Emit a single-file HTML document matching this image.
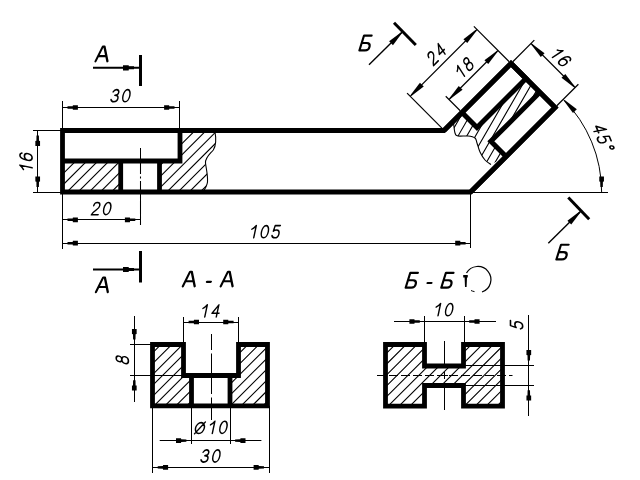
<!DOCTYPE html>
<html><head><meta charset="utf-8"><style>
html,body{margin:0;padding:0;background:#fff;}
svg{display:block;will-change:transform;}
text{font-family:"Liberation Sans",sans-serif;font-style:italic;fill:#000;stroke:none;}
</style></head><body>
<svg width="640" height="480" viewBox="0 0 640 480" stroke="#000" fill="none">
<rect x="0" y="0" width="640" height="480" fill="#fff" stroke="none"/>
<clipPath id="h1"><path d="M62.5 161H120.5V192.0H62.5Z"/></clipPath>
<path clip-path="url(#h1)" d="M-812.5 238.87L318.87 -892.5M-806.95 244.42L324.42 -886.95M-801.4 249.97L329.97 -881.4M-795.85 255.52L335.52 -875.85M-790.3 261.07L341.07 -870.3M-784.75 266.62L346.62 -864.75M-779.2 272.17L352.17 -859.2M-773.65 277.72L357.72 -853.65M-768.1 283.27L363.27 -848.1M-762.55 288.83L368.83 -842.55M-756.99 294.38L374.38 -836.99M-751.44 299.93L379.93 -831.44M-745.89 305.48L385.48 -825.89M-740.34 311.03L391.03 -820.34M-734.79 316.58L396.58 -814.79M-729.24 322.13L402.13 -809.24M-723.69 327.68L407.68 -803.69M-718.14 333.23L413.23 -798.14M-712.59 338.78L418.78 -792.59M-707.04 344.33L424.33 -787.04M-701.49 349.88L429.88 -781.49M-695.94 355.44L435.44 -775.94M-690.38 360.99L440.99 -770.38M-684.83 366.54L446.54 -764.83M-679.28 372.09L452.09 -759.28M-673.73 377.64L457.64 -753.73M-668.18 383.19L463.19 -748.18M-662.63 388.74L468.74 -742.63M-657.08 394.29L474.29 -737.08M-651.53 399.84L479.84 -731.53M-645.98 405.39L485.39 -725.98M-640.43 410.94L490.94 -720.43M-634.88 416.49L496.49 -714.88M-629.33 422.04L502.04 -709.33M-623.78 427.6L507.6 -703.78M-618.22 433.15L513.15 -698.22M-612.67 438.7L518.7 -692.67M-607.12 444.25L524.25 -687.12M-601.57 449.8L529.8 -681.57M-596.02 455.35L535.35 -676.02M-590.47 460.9L540.9 -670.47M-584.92 466.45L546.45 -664.92M-579.37 472L552 -659.37M-573.82 477.55L557.55 -653.82M-568.27 483.1L563.1 -648.27M-562.72 488.65L568.65 -642.72M-557.17 494.2L574.2 -637.17M-551.62 499.76L579.76 -631.62M-546.06 505.31L585.31 -626.06M-540.51 510.86L590.86 -620.51M-534.96 516.41L596.41 -614.96M-529.41 521.96L601.96 -609.41M-523.86 527.51L607.51 -603.86M-518.31 533.06L613.06 -598.31M-512.76 538.61L618.61 -592.76M-507.21 544.16L624.16 -587.21M-501.66 549.71L629.71 -581.66M-496.11 555.26L635.26 -576.11M-490.56 560.81L640.81 -570.56M-485.01 566.37L646.37 -565.01M-479.45 571.92L651.92 -559.45M-473.9 577.47L657.47 -553.9M-468.35 583.02L663.02 -548.35M-462.8 588.57L668.57 -542.8M-457.25 594.12L674.12 -537.25M-451.7 599.67L679.67 -531.7M-446.15 605.22L685.22 -526.15M-440.6 610.77L690.77 -520.6M-435.05 616.32L696.32 -515.05M-429.5 621.87L701.87 -509.5M-423.95 627.42L707.42 -503.95M-418.4 632.97L712.97 -498.4M-412.85 638.53L718.53 -492.85M-407.29 644.08L724.08 -487.29M-401.74 649.63L729.63 -481.74M-396.19 655.18L735.18 -476.19M-390.64 660.73L740.73 -470.64M-385.09 666.28L746.28 -465.09M-379.54 671.83L751.83 -459.54M-373.99 677.38L757.38 -453.99M-368.44 682.93L762.93 -448.44M-362.89 688.48L768.48 -442.89M-357.34 694.03L774.03 -437.34M-351.79 699.58L779.58 -431.79M-346.24 705.13L785.13 -426.24M-340.69 710.69L790.69 -420.69M-335.13 716.24L796.24 -415.13M-329.58 721.79L801.79 -409.58M-324.03 727.34L807.34 -404.03M-318.48 732.89L812.89 -398.48M-312.93 738.44L818.44 -392.93M-307.38 743.99L823.99 -387.38M-301.83 749.54L829.54 -381.83M-296.28 755.09L835.09 -376.28M-290.73 760.64L840.64 -370.73M-285.18 766.19L846.19 -365.18M-279.63 771.74L851.74 -359.63M-274.08 777.3L857.3 -354.08M-268.52 782.85L862.85 -348.52M-262.97 788.4L868.4 -342.97M-257.42 793.95L873.95 -337.42M-251.87 799.5L879.5 -331.87M-246.32 805.05L885.05 -326.32M-240.77 810.6L890.6 -320.77M-235.22 816.15L896.15 -315.22M-229.67 821.7L901.7 -309.67M-224.12 827.25L907.25 -304.12M-218.57 832.8L912.8 -298.57M-213.02 838.35L918.35 -293.02M-207.47 843.9L923.9 -287.47M-201.92 849.46L929.46 -281.92M-196.36 855.01L935.01 -276.36M-190.81 860.56L940.56 -270.81M-185.26 866.11L946.11 -265.26M-179.71 871.66L951.66 -259.71M-174.16 877.21L957.21 -254.16M-168.61 882.76L962.76 -248.61M-163.06 888.31L968.31 -243.06M-157.51 893.86L973.86 -237.51M-151.96 899.41L979.41 -231.96M-146.41 904.96L984.96 -226.41M-140.86 910.51L990.51 -220.86M-135.31 916.06L996.06 -215.31M-129.76 921.62L1001.62 -209.76M-124.2 927.17L1007.17 -204.2M-118.65 932.72L1012.72 -198.65M-113.1 938.27L1018.27 -193.1M-107.55 943.82L1023.82 -187.55M-102 949.37L1029.37 -182M-96.45 954.92L1034.92 -176.45M-90.9 960.47L1040.47 -170.9M-85.35 966.02L1046.02 -165.35M-79.8 971.57L1051.57 -159.8M-74.25 977.12L1057.12 -154.25M-68.7 982.67L1062.67 -148.7M-63.15 988.23L1068.23 -143.15M-57.6 993.78L1073.78 -137.6M-52.04 999.33L1079.33 -132.04M-46.49 1004.88L1084.88 -126.49M-40.94 1010.43L1090.43 -120.94M-35.39 1015.98L1095.98 -115.39M-29.84 1021.53L1101.53 -109.84M-24.29 1027.08L1107.08 -104.29M-18.74 1032.63L1112.63 -98.74M-13.19 1038.18L1118.18 -93.19M-7.64 1043.73L1123.73 -87.64M-2.09 1049.28L1129.28 -82.09M3.46 1054.83L1134.83 -76.54M9.01 1060.39L1140.39 -70.99M14.57 1065.94L1145.94 -65.43M20.12 1071.49L1151.49 -59.88M25.67 1077.04L1157.04 -54.33M31.22 1082.59L1162.59 -48.78M36.77 1088.14L1168.14 -43.23M42.32 1093.69L1173.69 -37.68M47.87 1099.24L1179.24 -32.13M53.42 1104.79L1184.79 -26.58M58.97 1110.34L1190.34 -21.03M64.52 1115.89L1195.89 -15.48M70.07 1121.44L1201.44 -9.93M75.62 1126.99L1206.99 -4.38M81.17 1132.55L1212.55 1.17M86.73 1138.1L1218.1 6.73M92.28 1143.65L1223.65 12.28M97.83 1149.2L1229.2 17.83M103.38 1154.75L1234.75 23.38M108.93 1160.3L1240.3 28.93M114.48 1165.85L1245.85 34.48M120.03 1171.4L1251.4 40.03M125.58 1176.95L1256.95 45.58M131.13 1182.5L1262.5 51.13M136.68 1188.05L1268.05 56.68M142.23 1193.6L1273.6 62.23M147.78 1199.15L1279.15 67.78M153.33 1204.71L1284.71 73.33M158.89 1210.26L1290.26 78.89M164.44 1215.81L1295.81 84.44M169.99 1221.36L1301.36 89.99M175.54 1226.91L1306.91 95.54M181.09 1232.46L1312.46 101.09M186.64 1238.01L1318.01 106.64M192.19 1243.56L1323.56 112.19M197.74 1249.11L1329.11 117.74M203.29 1254.66L1334.66 123.29M208.84 1260.21L1340.21 128.84M214.39 1265.76L1345.76 134.39M219.94 1271.32L1351.32 139.94M225.5 1276.87L1356.87 145.5M231.05 1282.42L1362.42 151.05M236.6 1287.97L1367.97 156.6M242.15 1293.52L1373.52 162.15M247.7 1299.07L1379.07 167.7M253.25 1304.62L1384.62 173.25M258.8 1310.17L1390.17 178.8M264.35 1315.72L1395.72 184.35M269.9 1321.27L1401.27 189.9M275.45 1326.82L1406.82 195.45M281 1332.37L1412.37 201M286.55 1337.92L1417.92 206.55M292.1 1343.48L1423.48 212.1M297.66 1349.03L1429.03 217.66M303.21 1354.58L1434.58 223.21M308.76 1360.13L1440.13 228.76M314.31 1365.68L1445.68 234.31M319.86 1371.23L1451.23 239.86" stroke-width="1.1" fill="none"/>
<clipPath id="h2"><path d="M180 130.5 L214.8 130.5 C216 137 216.5 145 213.3 150 C209 155 205 158 205.5 163 C206 168 208 175 207.5 182 C207 186 205 189 203 192.0 L159.5 192.0 L159.5 161 L180 161 Z"/></clipPath>
<path clip-path="url(#h2)" d="M-812.5 238.87L318.87 -892.5M-806.95 244.42L324.42 -886.95M-801.4 249.97L329.97 -881.4M-795.85 255.52L335.52 -875.85M-790.3 261.07L341.07 -870.3M-784.75 266.62L346.62 -864.75M-779.2 272.17L352.17 -859.2M-773.65 277.72L357.72 -853.65M-768.1 283.27L363.27 -848.1M-762.55 288.83L368.83 -842.55M-756.99 294.38L374.38 -836.99M-751.44 299.93L379.93 -831.44M-745.89 305.48L385.48 -825.89M-740.34 311.03L391.03 -820.34M-734.79 316.58L396.58 -814.79M-729.24 322.13L402.13 -809.24M-723.69 327.68L407.68 -803.69M-718.14 333.23L413.23 -798.14M-712.59 338.78L418.78 -792.59M-707.04 344.33L424.33 -787.04M-701.49 349.88L429.88 -781.49M-695.94 355.44L435.44 -775.94M-690.38 360.99L440.99 -770.38M-684.83 366.54L446.54 -764.83M-679.28 372.09L452.09 -759.28M-673.73 377.64L457.64 -753.73M-668.18 383.19L463.19 -748.18M-662.63 388.74L468.74 -742.63M-657.08 394.29L474.29 -737.08M-651.53 399.84L479.84 -731.53M-645.98 405.39L485.39 -725.98M-640.43 410.94L490.94 -720.43M-634.88 416.49L496.49 -714.88M-629.33 422.04L502.04 -709.33M-623.78 427.6L507.6 -703.78M-618.22 433.15L513.15 -698.22M-612.67 438.7L518.7 -692.67M-607.12 444.25L524.25 -687.12M-601.57 449.8L529.8 -681.57M-596.02 455.35L535.35 -676.02M-590.47 460.9L540.9 -670.47M-584.92 466.45L546.45 -664.92M-579.37 472L552 -659.37M-573.82 477.55L557.55 -653.82M-568.27 483.1L563.1 -648.27M-562.72 488.65L568.65 -642.72M-557.17 494.2L574.2 -637.17M-551.62 499.76L579.76 -631.62M-546.06 505.31L585.31 -626.06M-540.51 510.86L590.86 -620.51M-534.96 516.41L596.41 -614.96M-529.41 521.96L601.96 -609.41M-523.86 527.51L607.51 -603.86M-518.31 533.06L613.06 -598.31M-512.76 538.61L618.61 -592.76M-507.21 544.16L624.16 -587.21M-501.66 549.71L629.71 -581.66M-496.11 555.26L635.26 -576.11M-490.56 560.81L640.81 -570.56M-485.01 566.37L646.37 -565.01M-479.45 571.92L651.92 -559.45M-473.9 577.47L657.47 -553.9M-468.35 583.02L663.02 -548.35M-462.8 588.57L668.57 -542.8M-457.25 594.12L674.12 -537.25M-451.7 599.67L679.67 -531.7M-446.15 605.22L685.22 -526.15M-440.6 610.77L690.77 -520.6M-435.05 616.32L696.32 -515.05M-429.5 621.87L701.87 -509.5M-423.95 627.42L707.42 -503.95M-418.4 632.97L712.97 -498.4M-412.85 638.53L718.53 -492.85M-407.29 644.08L724.08 -487.29M-401.74 649.63L729.63 -481.74M-396.19 655.18L735.18 -476.19M-390.64 660.73L740.73 -470.64M-385.09 666.28L746.28 -465.09M-379.54 671.83L751.83 -459.54M-373.99 677.38L757.38 -453.99M-368.44 682.93L762.93 -448.44M-362.89 688.48L768.48 -442.89M-357.34 694.03L774.03 -437.34M-351.79 699.58L779.58 -431.79M-346.24 705.13L785.13 -426.24M-340.69 710.69L790.69 -420.69M-335.13 716.24L796.24 -415.13M-329.58 721.79L801.79 -409.58M-324.03 727.34L807.34 -404.03M-318.48 732.89L812.89 -398.48M-312.93 738.44L818.44 -392.93M-307.38 743.99L823.99 -387.38M-301.83 749.54L829.54 -381.83M-296.28 755.09L835.09 -376.28M-290.73 760.64L840.64 -370.73M-285.18 766.19L846.19 -365.18M-279.63 771.74L851.74 -359.63M-274.08 777.3L857.3 -354.08M-268.52 782.85L862.85 -348.52M-262.97 788.4L868.4 -342.97M-257.42 793.95L873.95 -337.42M-251.87 799.5L879.5 -331.87M-246.32 805.05L885.05 -326.32M-240.77 810.6L890.6 -320.77M-235.22 816.15L896.15 -315.22M-229.67 821.7L901.7 -309.67M-224.12 827.25L907.25 -304.12M-218.57 832.8L912.8 -298.57M-213.02 838.35L918.35 -293.02M-207.47 843.9L923.9 -287.47M-201.92 849.46L929.46 -281.92M-196.36 855.01L935.01 -276.36M-190.81 860.56L940.56 -270.81M-185.26 866.11L946.11 -265.26M-179.71 871.66L951.66 -259.71M-174.16 877.21L957.21 -254.16M-168.61 882.76L962.76 -248.61M-163.06 888.31L968.31 -243.06M-157.51 893.86L973.86 -237.51M-151.96 899.41L979.41 -231.96M-146.41 904.96L984.96 -226.41M-140.86 910.51L990.51 -220.86M-135.31 916.06L996.06 -215.31M-129.76 921.62L1001.62 -209.76M-124.2 927.17L1007.17 -204.2M-118.65 932.72L1012.72 -198.65M-113.1 938.27L1018.27 -193.1M-107.55 943.82L1023.82 -187.55M-102 949.37L1029.37 -182M-96.45 954.92L1034.92 -176.45M-90.9 960.47L1040.47 -170.9M-85.35 966.02L1046.02 -165.35M-79.8 971.57L1051.57 -159.8M-74.25 977.12L1057.12 -154.25M-68.7 982.67L1062.67 -148.7M-63.15 988.23L1068.23 -143.15M-57.6 993.78L1073.78 -137.6M-52.04 999.33L1079.33 -132.04M-46.49 1004.88L1084.88 -126.49M-40.94 1010.43L1090.43 -120.94M-35.39 1015.98L1095.98 -115.39M-29.84 1021.53L1101.53 -109.84M-24.29 1027.08L1107.08 -104.29M-18.74 1032.63L1112.63 -98.74M-13.19 1038.18L1118.18 -93.19M-7.64 1043.73L1123.73 -87.64M-2.09 1049.28L1129.28 -82.09M3.46 1054.83L1134.83 -76.54M9.01 1060.39L1140.39 -70.99M14.57 1065.94L1145.94 -65.43M20.12 1071.49L1151.49 -59.88M25.67 1077.04L1157.04 -54.33M31.22 1082.59L1162.59 -48.78M36.77 1088.14L1168.14 -43.23M42.32 1093.69L1173.69 -37.68M47.87 1099.24L1179.24 -32.13M53.42 1104.79L1184.79 -26.58M58.97 1110.34L1190.34 -21.03M64.52 1115.89L1195.89 -15.48M70.07 1121.44L1201.44 -9.93M75.62 1126.99L1206.99 -4.38M81.17 1132.55L1212.55 1.17M86.73 1138.1L1218.1 6.73M92.28 1143.65L1223.65 12.28M97.83 1149.2L1229.2 17.83M103.38 1154.75L1234.75 23.38M108.93 1160.3L1240.3 28.93M114.48 1165.85L1245.85 34.48M120.03 1171.4L1251.4 40.03M125.58 1176.95L1256.95 45.58M131.13 1182.5L1262.5 51.13M136.68 1188.05L1268.05 56.68M142.23 1193.6L1273.6 62.23M147.78 1199.15L1279.15 67.78M153.33 1204.71L1284.71 73.33M158.89 1210.26L1290.26 78.89M164.44 1215.81L1295.81 84.44M169.99 1221.36L1301.36 89.99M175.54 1226.91L1306.91 95.54M181.09 1232.46L1312.46 101.09M186.64 1238.01L1318.01 106.64M192.19 1243.56L1323.56 112.19M197.74 1249.11L1329.11 117.74M203.29 1254.66L1334.66 123.29M208.84 1260.21L1340.21 128.84M214.39 1265.76L1345.76 134.39M219.94 1271.32L1351.32 139.94M225.5 1276.87L1356.87 145.5M231.05 1282.42L1362.42 151.05M236.6 1287.97L1367.97 156.6M242.15 1293.52L1373.52 162.15M247.7 1299.07L1379.07 167.7M253.25 1304.62L1384.62 173.25M258.8 1310.17L1390.17 178.8M264.35 1315.72L1395.72 184.35M269.9 1321.27L1401.27 189.9M275.45 1326.82L1406.82 195.45M281 1332.37L1412.37 201M286.55 1337.92L1417.92 206.55M292.1 1343.48L1423.48 212.1M297.66 1349.03L1429.03 217.66M303.21 1354.58L1434.58 223.21M308.76 1360.13L1440.13 228.76M314.31 1365.68L1445.68 234.31M319.86 1371.23L1451.23 239.86" stroke-width="1.1" fill="none"/>
<path d="M214.8 130.5 C216 137 216.5 145 213.3 150 C209 155 205 158 205.5 163 C206 168 208 175 207.5 182 C207 186 205 189 203 192" stroke-width="1.1" fill="none"/>
<clipPath id="h3"><path d="M453.5 122.5 C453.75 124.25 454.25 130.75 455 133 C455.75 135.25 455.83 135.5 458 136 C460.17 136.5 465.17 135.67 468 136 C470.83 136.33 473.5 136.83 475 138 C476.5 139.17 476.17 140.67 477 143 C477.83 145.33 478.67 149.17 480 152 C481.33 154.83 483.17 157.92 485 160 C486.83 162.08 490 163.75 491 164.5 L506.05 156.56 L490.85 141.35 L539.85 92.35 L525.99 78.49 L476.99 127.49 L462 112.5 Z"/></clipPath>
<path clip-path="url(#h3)" d="M-773.43 532.47L26.57 -853.17M-766.89 536.25L33.11 -849.4M-760.35 540.02L39.65 -845.62M-753.81 543.8L46.19 -841.85M-747.27 547.57L52.73 -838.07M-740.73 551.35L59.27 -834.3M-734.2 555.12L65.8 -830.52M-727.66 558.9L72.34 -826.75M-721.12 562.67L78.88 -822.97M-714.58 566.45L85.42 -819.2M-708.04 570.22L91.96 -815.42M-701.5 574L98.5 -811.65M-694.96 577.77L105.04 -807.87M-688.43 581.55L111.57 -804.1M-681.89 585.32L118.11 -800.32M-675.35 589.1L124.65 -796.55M-668.81 592.87L131.19 -792.77M-662.27 596.65L137.73 -789M-655.73 600.42L144.27 -785.22M-649.2 604.2L150.8 -781.45M-642.66 607.97L157.34 -777.67M-636.12 611.75L163.88 -773.9M-629.58 615.52L170.42 -770.12M-623.04 619.3L176.96 -766.35M-616.5 623.07L183.5 -762.57M-609.96 626.85L190.04 -758.8M-603.43 630.62L196.57 -755.02M-596.89 634.4L203.11 -751.25M-590.35 638.17L209.65 -747.47M-583.81 641.95L216.19 -743.7M-577.27 645.72L222.73 -739.92M-570.73 649.5L229.27 -736.15M-564.19 653.27L235.81 -732.37M-557.66 657.05L242.34 -728.6M-551.12 660.82L248.88 -724.82M-544.58 664.6L255.42 -721.05M-538.04 668.37L261.96 -717.27M-531.5 672.15L268.5 -713.5M-524.96 675.92L275.04 -709.72M-518.43 679.7L281.57 -705.95M-511.89 683.47L288.11 -702.17M-505.35 687.25L294.65 -698.4M-498.81 691.02L301.19 -694.62M-492.27 694.8L307.73 -690.85M-485.73 698.57L314.27 -687.07M-479.19 702.35L320.81 -683.3M-472.66 706.12L327.34 -679.52M-466.12 709.9L333.88 -675.75M-459.58 713.67L340.42 -671.97M-453.04 717.45L346.96 -668.2M-446.5 721.22L353.5 -664.42M-439.96 725L360.04 -660.65M-433.42 728.77L366.58 -656.87M-426.89 732.55L373.11 -653.1M-420.35 736.32L379.65 -649.32M-413.81 740.1L386.19 -645.55M-407.27 743.87L392.73 -641.77M-400.73 747.65L399.27 -638M-394.19 751.42L405.81 -634.22M-387.66 755.2L412.34 -630.45M-381.12 758.97L418.88 -626.67M-374.58 762.75L425.42 -622.9M-368.04 766.52L431.96 -619.12M-361.5 770.3L438.5 -615.35M-354.96 774.07L445.04 -611.57M-348.42 777.85L451.58 -607.8M-341.89 781.62L458.11 -604.02M-335.35 785.4L464.65 -600.25M-328.81 789.17L471.19 -596.47M-322.27 792.95L477.73 -592.7M-315.73 796.72L484.27 -588.92M-309.19 800.5L490.81 -585.15M-302.66 804.27L497.34 -581.37M-296.12 808.05L503.88 -577.6M-289.58 811.82L510.42 -573.82M-283.04 815.6L516.96 -570.05M-276.5 819.37L523.5 -566.27M-269.96 823.15L530.04 -562.5M-263.42 826.92L536.58 -558.72M-256.89 830.7L543.11 -554.95M-250.35 834.47L549.65 -551.17M-243.81 838.25L556.19 -547.4M-237.27 842.02L562.73 -543.62M-230.73 845.8L569.27 -539.85M-224.19 849.57L575.81 -536.07M-217.65 853.35L582.35 -532.3M-211.12 857.12L588.88 -528.52M-204.58 860.9L595.42 -524.75M-198.04 864.67L601.96 -520.97M-191.5 868.45L608.5 -517.2M-184.96 872.22L615.04 -513.42M-178.42 876L621.58 -509.65M-171.89 879.77L628.11 -505.87M-165.35 883.55L634.65 -502.1M-158.81 887.32L641.19 -498.32M-152.27 891.1L647.73 -494.55M-145.73 894.87L654.27 -490.77M-139.19 898.65L660.81 -487M-132.65 902.42L667.35 -483.22M-126.12 906.2L673.88 -479.45M-119.58 909.97L680.42 -475.67M-113.04 913.75L686.96 -471.9M-106.5 917.52L693.5 -468.12M-99.96 921.3L700.04 -464.35M-93.42 925.07L706.58 -460.57M-86.88 928.85L713.12 -456.8M-80.35 932.62L719.65 -453.02M-73.81 936.4L726.19 -449.25M-67.27 940.17L732.73 -445.47M-60.73 943.95L739.27 -441.7M-54.19 947.72L745.81 -437.92M-47.65 951.5L752.35 -434.15M-41.12 955.27L758.88 -430.37M-34.58 959.05L765.42 -426.6M-28.04 962.82L771.96 -422.82M-21.5 966.6L778.5 -419.05M-14.96 970.37L785.04 -415.27M-8.42 974.15L791.58 -411.5M-1.88 977.92L798.12 -407.72M4.65 981.7L804.65 -403.95M11.19 985.47L811.19 -400.17M17.73 989.25L817.73 -396.4M24.27 993.02L824.27 -392.62M30.81 996.8L830.81 -388.85M37.35 1000.57L837.35 -385.07M43.88 1004.35L843.88 -381.3M50.42 1008.12L850.42 -377.52M56.96 1011.9L856.96 -373.75M63.5 1015.67L863.5 -369.97M70.04 1019.45L870.04 -366.2M76.58 1023.22L876.58 -362.42M83.12 1027L883.12 -358.65M89.65 1030.77L889.65 -354.87M96.19 1034.55L896.19 -351.1M102.73 1038.32L902.73 -347.32M109.27 1042.1L909.27 -343.55M115.81 1045.87L915.81 -339.77M122.35 1049.65L922.35 -336M128.89 1053.42L928.89 -332.22M135.42 1057.2L935.42 -328.45M141.96 1060.97L941.96 -324.67M148.5 1064.75L948.5 -320.9M155.04 1068.52L955.04 -317.12M161.58 1072.3L961.58 -313.35M168.12 1076.07L968.12 -309.57M174.65 1079.85L974.65 -305.8M181.19 1083.62L981.19 -302.02M187.73 1087.4L987.73 -298.25M194.27 1091.17L994.27 -294.47M200.81 1094.95L1000.81 -290.7M207.35 1098.72L1007.35 -286.92M213.89 1102.5L1013.89 -283.15M220.42 1106.27L1020.42 -279.37M226.96 1110.05L1026.96 -275.6M233.5 1113.82L1033.5 -271.82M240.04 1117.6L1040.04 -268.05M246.58 1121.37L1046.58 -264.27M253.12 1125.15L1053.12 -260.5M259.66 1128.92L1059.66 -256.72M266.19 1132.7L1066.19 -252.95M272.73 1136.47L1072.73 -249.17M279.27 1140.25L1079.27 -245.4M285.81 1144.02L1085.81 -241.62M292.35 1147.8L1092.35 -237.85M298.89 1151.57L1098.89 -234.07M305.42 1155.35L1105.42 -230.3M311.96 1159.12L1111.96 -226.52M318.5 1162.9L1118.5 -222.75M325.04 1166.67L1125.04 -218.97M331.58 1170.45L1131.58 -215.2M338.12 1174.22L1138.12 -211.42M344.66 1178L1144.66 -207.65M351.19 1181.77L1151.19 -203.87M357.73 1185.55L1157.73 -200.1M364.27 1189.32L1164.27 -196.32M370.81 1193.1L1170.81 -192.55M377.35 1196.87L1177.35 -188.77M383.89 1200.65L1183.89 -185M390.42 1204.42L1190.42 -181.22M396.96 1208.2L1196.96 -177.45M403.5 1211.97L1203.5 -173.67M410.04 1215.75L1210.04 -169.9M416.58 1219.52L1216.58 -166.12M423.12 1223.3L1223.12 -162.35M429.66 1227.07L1229.66 -158.57M436.19 1230.85L1236.19 -154.8M442.73 1234.62L1242.73 -151.02M449.27 1238.4L1249.27 -147.25M455.81 1242.17L1255.81 -143.47M462.35 1245.95L1262.35 -139.7M468.89 1249.72L1268.89 -135.92M475.43 1253.5L1275.43 -132.15M481.96 1257.27L1281.96 -128.37M488.5 1261.05L1288.5 -124.6M495.04 1264.82L1295.04 -120.82M501.58 1268.6L1301.58 -117.05M508.12 1272.37L1308.12 -113.27M514.66 1276.15L1314.66 -109.5M521.19 1279.92L1321.19 -105.72M527.73 1283.7L1327.73 -101.95M534.27 1287.47L1334.27 -98.17M540.81 1291.25L1340.81 -94.4M547.35 1295.02L1347.35 -90.62M553.89 1298.8L1353.89 -86.85M560.43 1302.57L1360.43 -83.07M566.96 1306.35L1366.96 -79.3M573.5 1310.12L1373.5 -75.52M580.04 1313.9L1380.04 -71.75M586.58 1317.67L1386.58 -67.97M593.12 1321.45L1393.12 -64.2M599.66 1325.22L1399.66 -60.42M606.2 1329L1406.2 -56.65M612.73 1332.77L1412.73 -52.87" stroke-width="1.1" fill="none"/>
<path d="M453.5 122.5 C453.75 124.25 454.25 130.75 455 133 C455.75 135.25 455.83 135.5 458 136 C460.17 136.5 465.17 135.67 468 136 C470.83 136.33 473.5 136.83 475 138 C476.5 139.17 476.17 140.67 477 143 C477.83 145.33 478.67 149.17 480 152 C481.33 154.83 483.17 157.92 485 160 C486.83 162.08 490 163.75 491 164.5" stroke-width="1.1" fill="none"/>
<polygon points="62.5,130.5 444,130.5 511,63.5 555.05,107.55 470.61,192 62.5,192" fill="none" stroke-width="4.8" stroke-linejoin="miter" />
<polyline points="444,130.5 511,63.5 555.05,107.55 470.61,192" fill="none" stroke-width="5.0" stroke-linejoin="miter" />
<polyline points="62.5,161 180,161 180,130.5" fill="none" stroke-width="4.8" stroke-linejoin="miter" />
<line x1="120.7" y1="161" x2="120.7" y2="192" stroke-width="4.8" />
<line x1="159.5" y1="161" x2="159.5" y2="192" stroke-width="4.8" />
<polyline points="511,63.5 525.99,78.49 476.99,127.49 462,112.5" fill="none" stroke-width="5.0" stroke-linejoin="miter" />
<polyline points="539.85,92.35 490.85,141.35 506.05,156.56" fill="none" stroke-width="5.0" stroke-linejoin="miter" />
<line x1="140.5" y1="148" x2="140.5" y2="161" stroke-width="1.05" />
<line x1="140.5" y1="161" x2="140.5" y2="225" stroke-width="1.05" stroke-dasharray="13,2.5,2,2.5"/>
<line x1="33" y1="130.5" x2="62.5" y2="130.5" stroke-width="1.05" />
<line x1="33" y1="192.5" x2="62.5" y2="192.5" stroke-width="1.05" />
<line x1="37.5" y1="130.5" x2="37.5" y2="192" stroke-width="1.05" />
<polygon points="40.05,145.9 40.05,140.9 39,140.7 38.9,135.5 36.5,135.5 36.4,140.7 35.35,140.9 35.35,145.9" fill="#000" stroke="none"/>
<polygon points="35.35,176.6 35.35,181.6 36.4,181.8 36.5,187 38.9,187 39,181.8 40.05,181.6 40.05,176.6" fill="#000" stroke="none"/>
<g transform="translate(26 162.16) rotate(-90) scale(1.0 1)"><g transform="scale(1.2200) skewX(-12.0) translate(-7.380 -5)" fill="none" stroke-width="1.311" stroke-linecap="round" stroke-linejoin="round"><path transform="translate(0.000 0) scale(0.9 1)" d="M1.0 2.9 C2.3 2.3 3.4 1.3 4.3 0 L4.3 10"/><path transform="translate(9.180 0) scale(0.9 1)" d="M5.6 1.7 C5.1 0.6 4.2 0 3.1 0 C1.2 0 0 2 0 5.4 C0 8.4 1.2 10 3.1 10 C4.9 10 6.1 8.7 6.1 6.8 C6.1 5 4.9 3.7 3.2 3.7 C1.6 3.7 0.5 4.6 0 6"/></g></g>
<line x1="62.5" y1="101" x2="62.5" y2="130.5" stroke-width="1.05" />
<line x1="179.5" y1="101" x2="179.5" y2="130.5" stroke-width="1.05" />
<line x1="62.5" y1="107.5" x2="179.5" y2="107.5" stroke-width="1.05" />
<polygon points="77.9,105.15 72.9,105.15 72.7,106.2 67.5,106.3 67.5,108.7 72.7,108.8 72.9,109.85 77.9,109.85" fill="#000" stroke="none"/>
<polygon points="164.1,109.85 169.1,109.85 169.3,108.8 174.5,108.7 174.5,106.3 169.3,106.2 169.1,105.15 164.1,105.15" fill="#000" stroke="none"/>
<g transform="translate(120.8 95.68) rotate(0) scale(1.0 1)"><g transform="scale(1.2200) skewX(-12.0) translate(-7.380 -5)" fill="none" stroke-width="1.311" stroke-linecap="round" stroke-linejoin="round"><path transform="translate(0.000 0) scale(0.9 1)" d="M0.5 1.9 C1.1 0.6 2 0 3.1 0 C4.6 0 5.7 0.9 5.7 2.4 C5.7 3.9 4.6 4.7 2.7 4.7 C4.9 4.7 6.1 5.7 6.1 7.3 C6.1 9 4.8 10 3 10 C1.5 10 0.5 9.3 0 8.1"/><path transform="translate(9.180 0) scale(0.9 1)" d="M3.1 0 C1.3 0 0 2.2 0 5 C0 7.8 1.3 10 3.1 10 C4.9 10 6.2 7.8 6.2 5 C6.2 2.2 4.9 0 3.1 0 Z"/></g></g>
<line x1="62.5" y1="192" x2="62.5" y2="249" stroke-width="1.05" />
<line x1="140.5" y1="192" x2="140.5" y2="225" stroke-width="1.05" />
<line x1="62.5" y1="219.5" x2="140.3" y2="219.5" stroke-width="1.05" />
<polygon points="77.9,217.45 72.9,217.45 72.7,218.5 67.5,218.6 67.5,221 72.7,221.1 72.9,222.15 77.9,222.15" fill="#000" stroke="none"/>
<polygon points="124.9,222.15 129.9,222.15 130.1,221.1 135.3,221 135.3,218.6 130.1,218.5 129.9,217.45 124.9,217.45" fill="#000" stroke="none"/>
<g transform="translate(101.64 208.62) rotate(0) scale(1.0 1)"><g transform="scale(1.2200) skewX(-12.0) translate(-7.380 -5)" fill="none" stroke-width="1.311" stroke-linecap="round" stroke-linejoin="round"><path transform="translate(0.000 0) scale(0.9 1)" d="M0.4 2.6 C0.5 1 1.7 0 3.1 0 C4.7 0 5.9 1 5.9 2.7 C5.9 4.1 5 5 3.6 6.1 C2.2 7.2 0.6 8.6 0 10 L6.2 10"/><path transform="translate(9.180 0) scale(0.9 1)" d="M3.1 0 C1.3 0 0 2.2 0 5 C0 7.8 1.3 10 3.1 10 C4.9 10 6.2 7.8 6.2 5 C6.2 2.2 4.9 0 3.1 0 Z"/></g></g>
<line x1="470.5" y1="192" x2="470.5" y2="248" stroke-width="1.05" />
<line x1="62.5" y1="243.5" x2="470.61" y2="243.5" stroke-width="1.05" />
<polygon points="77.9,240.85 72.9,240.85 72.7,241.9 67.5,242 67.5,244.4 72.7,244.5 72.9,245.55 77.9,245.55" fill="#000" stroke="none"/>
<polygon points="455.21,245.55 460.21,245.55 460.41,244.5 465.61,244.4 465.61,242 460.41,241.9 460.21,240.85 455.21,240.85" fill="#000" stroke="none"/>
<g transform="translate(264.9 231.68) rotate(0) scale(1.0 1)"><g transform="scale(1.2200) skewX(-12.0) translate(-11.970 -5)" fill="none" stroke-width="1.311" stroke-linecap="round" stroke-linejoin="round"><path transform="translate(0.000 0) scale(0.9 1)" d="M1.0 2.9 C2.3 2.3 3.4 1.3 4.3 0 L4.3 10"/><path transform="translate(9.180 0) scale(0.9 1)" d="M3.1 0 C1.3 0 0 2.2 0 5 C0 7.8 1.3 10 3.1 10 C4.9 10 6.2 7.8 6.2 5 C6.2 2.2 4.9 0 3.1 0 Z"/><path transform="translate(18.360 0) scale(0.9 1)" d="M5.8 0 L1.1 0 L0.5 4.6 C1.2 3.9 2.1 3.6 3.1 3.6 C4.9 3.6 6.1 4.9 6.1 6.8 C6.1 8.7 4.8 10 3 10 C1.6 10 0.6 9.3 0.1 8.2"/></g></g>
<line x1="442.41" y1="128.55" x2="407.06" y2="93.2" stroke-width="1.2" />
<line x1="509.23" y1="61.73" x2="473.88" y2="26.38" stroke-width="1.2" />
<line x1="460.23" y1="110.73" x2="445.73" y2="96.24" stroke-width="1.2" />
<line x1="410.17" y1="96.31" x2="476.99" y2="29.49" stroke-width="1.2" />
<polygon points="419.92,82.73 410.8,94.82 411.65,95.67 423.74,86.55" fill="#000" stroke="none"/>
<polygon points="467.23,43.06 476.35,30.97 475.5,30.12 463.41,39.25" fill="#000" stroke="none"/>
<line x1="448.99" y1="99.49" x2="497.99" y2="50.49" stroke-width="1.2" />
<polygon points="458.74,85.92 449.62,98.01 450.47,98.86 462.56,89.73" fill="#000" stroke="none"/>
<polygon points="488.23,64.07 497.35,51.97 496.5,51.13 484.41,60.25" fill="#000" stroke="none"/>
<g transform="translate(436.48 54) rotate(-45) scale(1.0 1)"><g transform="scale(1.2200) skewX(-12.0) translate(-7.380 -5)" fill="none" stroke-width="1.311" stroke-linecap="round" stroke-linejoin="round"><path transform="translate(0.000 0) scale(0.9 1)" d="M0.4 2.6 C0.5 1 1.7 0 3.1 0 C4.7 0 5.9 1 5.9 2.7 C5.9 4.1 5 5 3.6 6.1 C2.2 7.2 0.6 8.6 0 10 L6.2 10"/><path transform="translate(9.180 0) scale(0.9 1)" d="M4.6 10 L4.6 0 L0 6.9 L6.4 6.9"/></g></g>
<g transform="translate(464.2 67.9) rotate(-45) scale(1.0 1)"><g transform="scale(1.2200) skewX(-12.0) translate(-7.380 -5)" fill="none" stroke-width="1.311" stroke-linecap="round" stroke-linejoin="round"><path transform="translate(0.000 0) scale(0.9 1)" d="M1.0 2.9 C2.3 2.3 3.4 1.3 4.3 0 L4.3 10"/><path transform="translate(9.180 0) scale(0.9 1)" d="M3.1 4.6 C1.6 4.6 0.6 3.7 0.6 2.3 C0.6 0.9 1.6 0 3.1 0 C4.6 0 5.6 0.9 5.6 2.3 C5.6 3.7 4.6 4.6 3.1 4.6 C1.2 4.6 0 5.7 0 7.3 C0 8.9 1.3 10 3.1 10 C4.9 10 6.2 8.9 6.2 7.3 C6.2 5.7 5 4.6 3.1 4.6 Z"/></g></g>
<line x1="512.77" y1="61.73" x2="534.33" y2="40.17" stroke-width="1.2" />
<line x1="556.82" y1="105.78" x2="578.39" y2="84.22" stroke-width="1.2" />
<line x1="531.01" y1="43.49" x2="575.06" y2="87.54" stroke-width="1.2" />
<polygon points="544.59,53.25 532.5,44.13 531.65,44.97 540.77,57.07" fill="#000" stroke="none"/>
<polygon points="561.49,77.78 573.58,86.91 574.43,86.06 565.31,73.97" fill="#000" stroke="none"/>
<g transform="translate(560.74 57.05) rotate(45) scale(1.0 1)"><g transform="scale(1.2200) skewX(-12.0) translate(-7.380 -5)" fill="none" stroke-width="1.311" stroke-linecap="round" stroke-linejoin="round"><path transform="translate(0.000 0) scale(0.9 1)" d="M1.0 2.9 C2.3 2.3 3.4 1.3 4.3 0 L4.3 10"/><path transform="translate(9.180 0) scale(0.9 1)" d="M5.6 1.7 C5.1 0.6 4.2 0 3.1 0 C1.2 0 0 2 0 5.4 C0 8.4 1.2 10 3.1 10 C4.9 10 6.1 8.7 6.1 6.8 C6.1 5 4.9 3.7 3.2 3.7 C1.6 3.7 0.5 4.6 0 6"/></g></g>
<line x1="470.61" y1="192.5" x2="608" y2="192.5" stroke-width="1.05" />
<path d="M563.24 99.37 A131 131 0 0 1 601.61 192" fill="none" stroke-width="1"/>
<polygon points="576.81,109.13 564.72,100.01 563.87,100.85 572.99,112.95" fill="#000" stroke="none"/>
<polygon points="599.26,176.6 599.26,181.6 600.31,181.8 600.41,187 602.81,187 602.91,181.8 603.96,181.6 603.96,176.6" fill="#000" stroke="none"/>
<g transform="translate(603.32 137.89) rotate(67.5) scale(1.0 1)"><g transform="scale(1.2200) skewX(-12.0) translate(-10.710 -5)" fill="none" stroke-width="1.311" stroke-linecap="round" stroke-linejoin="round"><path transform="translate(0.000 0) scale(0.9 1)" d="M4.6 10 L4.6 0 L0 6.9 L6.4 6.9"/><path transform="translate(9.180 0) scale(0.9 1)" d="M5.8 0 L1.1 0 L0.5 4.6 C1.2 3.9 2.1 3.6 3.1 3.6 C4.9 3.6 6.1 4.9 6.1 6.8 C6.1 8.7 4.8 10 3 10 C1.6 10 0.6 9.3 0.1 8.2"/><path transform="translate(18.360 0) scale(0.9 1)" d="M1.7 0 C0.8 0 0.2 0.6 0.2 1.5 C0.2 2.4 0.8 3 1.7 3 C2.6 3 3.2 2.4 3.2 1.5 C3.2 0.6 2.6 0 1.7 0 Z"/></g></g>
<g transform="translate(103.05 54.02) rotate(0) scale(1.0 1)"><g transform="scale(1.4600) skewX(-12.0) translate(-4.075 -5)" fill="none" stroke-width="1.507" stroke-linecap="round" stroke-linejoin="round"><path transform="translate(0.000 0) scale(1.0 1)" d="M0 10 L2.8 0 L4.0 0 L8.15 10 M1.0 6.5 L6.7 6.5"/></g></g>
<line x1="93" y1="67.8" x2="140" y2="67.8" stroke-width="2" />
<polygon points="123,70.4 128.7,70.4 128.8,69.3 134,69.3 134,66.3 128.8,66.3 128.7,65.2 123,65.2" fill="#000" stroke="none"/>
<line x1="140.5" y1="55" x2="140.5" y2="86" stroke-width="3" />
<g transform="translate(103.42 284.82) rotate(0) scale(1.0 1)"><g transform="scale(1.4600) skewX(-12.0) translate(-4.075 -5)" fill="none" stroke-width="1.507" stroke-linecap="round" stroke-linejoin="round"><path transform="translate(0.000 0) scale(1.0 1)" d="M0 10 L2.8 0 L4.0 0 L8.15 10 M1.0 6.5 L6.7 6.5"/></g></g>
<line x1="93" y1="269.5" x2="140" y2="269.5" stroke-width="2" />
<polygon points="123,272.1 128.7,272.1 128.8,271 134,271 134,268 128.8,268 128.7,266.9 123,266.9" fill="#000" stroke="none"/>
<line x1="140.5" y1="251" x2="140.5" y2="282.5" stroke-width="3" />
<g transform="translate(365.8 43.02) rotate(0) scale(1.0 1)"><g transform="scale(1.4600) skewX(-12.0) translate(-3.300 -5)" fill="none" stroke-width="1.507" stroke-linecap="round" stroke-linejoin="round"><path transform="translate(0.000 0) scale(1.0 1)" d="M6.2 0 L1.0 0 L0 10 L3.9 10 C5.5 10 6.4 9.1 6.4 7.5 C6.4 5.9 5.5 5 3.9 5 L0.5 5"/></g></g>
<line x1="394" y1="22.8" x2="415.8" y2="45" stroke-width="3" />
<line x1="369" y1="64.7" x2="402.7" y2="31.6" stroke-width="1.4" />
<polygon points="392.94,45.18 402.06,33.08 401.22,32.24 389.12,41.36" fill="#000" stroke="none"/>
<g transform="translate(562.8 252.04) rotate(0) scale(1.0 1)"><g transform="scale(1.4600) skewX(-12.0) translate(-3.300 -5)" fill="none" stroke-width="1.507" stroke-linecap="round" stroke-linejoin="round"><path transform="translate(0.000 0) scale(1.0 1)" d="M6.2 0 L1.0 0 L0 10 L3.9 10 C5.5 10 6.4 9.1 6.4 7.5 C6.4 5.9 5.5 5 3.9 5 L0.5 5"/></g></g>
<line x1="568.3" y1="197.5" x2="589.2" y2="219.2" stroke-width="3" />
<line x1="548.3" y1="243.3" x2="581" y2="210.9" stroke-width="1.4" />
<polygon points="571.24,224.48 580.36,212.38 579.52,211.54 567.42,220.66" fill="#000" stroke="none"/>
<g transform="translate(209.26 279.04) rotate(0) scale(1.0 1)"><g transform="scale(1.4600) skewX(-12.0) translate(-17.050 -5)" fill="none" stroke-width="1.507" stroke-linecap="round" stroke-linejoin="round"><path transform="translate(0.000 0) scale(1.0 1)" d="M0 10 L2.8 0 L4.0 0 L8.15 10 M1.0 6.5 L6.7 6.5"/><path transform="translate(15.250 0) scale(1.0 1)" d="M0.6 6.9 L3.3 6.9"/><path transform="translate(25.950 0) scale(1.0 1)" d="M0 10 L2.8 0 L4.0 0 L8.15 10 M1.0 6.5 L6.7 6.5"/></g></g>
<clipPath id="h4"><path d="M152.5 344.5H183.5V375.5H191.5V405.8H152.5Z M238.5 344.5H267.5V405.8H230V375.5H238.5Z"/></clipPath>
<path clip-path="url(#h4)" d="M-812.01 239.36L319.36 -892.01M-806.56 244.81L324.81 -886.56M-801.12 250.25L330.25 -881.12M-795.67 255.7L335.7 -875.67M-790.23 261.14L341.14 -870.23M-784.78 266.59L346.59 -864.78M-779.34 272.03L352.03 -859.34M-773.89 277.48L357.48 -853.89M-768.45 282.92L362.92 -848.45M-763 288.37L368.37 -843M-757.56 293.81L373.81 -837.56M-752.12 299.26L379.26 -832.12M-746.67 304.7L384.7 -826.67M-741.23 310.14L390.14 -821.23M-735.78 315.59L395.59 -815.78M-730.34 321.03L401.03 -810.34M-724.89 326.48L406.48 -804.89M-719.45 331.92L411.92 -799.45M-714 337.37L417.37 -794M-708.56 342.81L422.81 -788.56M-703.11 348.26L428.26 -783.11M-697.67 353.7L433.7 -777.67M-692.22 359.15L439.15 -772.22M-686.78 364.59L444.59 -766.78M-681.33 370.04L450.04 -761.33M-675.89 375.48L455.48 -755.89M-670.44 380.93L460.93 -750.44M-665 386.37L466.37 -745M-659.56 391.82L471.82 -739.56M-654.11 397.26L477.26 -734.11M-648.67 402.71L482.71 -728.67M-643.22 408.15L488.15 -723.22M-637.78 413.59L493.59 -717.78M-632.33 419.04L499.04 -712.33M-626.89 424.48L504.48 -706.89M-621.44 429.93L509.93 -701.44M-616 435.37L515.37 -696M-610.55 440.82L520.82 -690.55M-605.11 446.26L526.26 -685.11M-599.66 451.71L531.71 -679.66M-594.22 457.15L537.15 -674.22M-588.77 462.6L542.6 -668.77M-583.33 468.04L548.04 -663.33M-577.88 473.49L553.49 -657.88M-572.44 478.93L558.93 -652.44M-566.99 484.38L564.38 -646.99M-561.55 489.82L569.82 -641.55M-556.11 495.27L575.27 -636.11M-550.66 500.71L580.71 -630.66M-545.22 506.15L586.15 -625.22M-539.77 511.6L591.6 -619.77M-534.33 517.04L597.04 -614.33M-528.88 522.49L602.49 -608.88M-523.44 527.93L607.93 -603.44M-517.99 533.38L613.38 -597.99M-512.55 538.82L618.82 -592.55M-507.1 544.27L624.27 -587.1M-501.66 549.71L629.71 -581.66M-496.21 555.16L635.16 -576.21M-490.77 560.6L640.6 -570.77M-485.32 566.05L646.05 -565.32M-479.88 571.49L651.49 -559.88M-474.43 576.94L656.94 -554.43M-468.99 582.38L662.38 -548.99M-463.55 587.83L667.83 -543.55M-458.1 593.27L673.27 -538.1M-452.66 598.72L678.72 -532.66M-447.21 604.16L684.16 -527.21M-441.77 609.6L689.6 -521.77M-436.32 615.05L695.05 -516.32M-430.88 620.49L700.49 -510.88M-425.43 625.94L705.94 -505.43M-419.99 631.38L711.38 -499.99M-414.54 636.83L716.83 -494.54M-409.1 642.27L722.27 -489.1M-403.65 647.72L727.72 -483.65M-398.21 653.16L733.16 -478.21M-392.76 658.61L738.61 -472.76M-387.32 664.05L744.05 -467.32M-381.87 669.5L749.5 -461.87M-376.43 674.94L754.94 -456.43M-370.98 680.39L760.39 -450.98M-365.54 685.83L765.83 -445.54M-360.1 691.28L771.28 -440.1M-354.65 696.72L776.72 -434.65M-349.21 702.16L782.16 -429.21M-343.76 707.61L787.61 -423.76M-338.32 713.05L793.05 -418.32M-332.87 718.5L798.5 -412.87M-327.43 723.94L803.94 -407.43M-321.98 729.39L809.39 -401.98M-316.54 734.83L814.83 -396.54M-311.09 740.28L820.28 -391.09M-305.65 745.72L825.72 -385.65M-300.2 751.17L831.17 -380.2M-294.76 756.61L836.61 -374.76M-289.31 762.06L842.06 -369.31M-283.87 767.5L847.5 -363.87M-278.42 772.95L852.95 -358.42M-272.98 778.39L858.39 -352.98M-267.54 783.84L863.84 -347.54M-262.09 789.28L869.28 -342.09M-256.65 794.73L874.73 -336.65M-251.2 800.17L880.17 -331.2M-245.76 805.61L885.61 -325.76M-240.31 811.06L891.06 -320.31M-234.87 816.5L896.5 -314.87M-229.42 821.95L901.95 -309.42M-223.98 827.39L907.39 -303.98M-218.53 832.84L912.84 -298.53M-213.09 838.28L918.28 -293.09M-207.64 843.73L923.73 -287.64M-202.2 849.17L929.17 -282.2M-196.75 854.62L934.62 -276.75M-191.31 860.06L940.06 -271.31M-185.86 865.51L945.51 -265.86M-180.42 870.95L950.95 -260.42M-174.97 876.4L956.4 -254.97M-169.53 881.84L961.84 -249.53M-164.09 887.29L967.29 -244.09M-158.64 892.73L972.73 -238.64M-153.2 898.17L978.17 -233.2M-147.75 903.62L983.62 -227.75M-142.31 909.06L989.06 -222.31M-136.86 914.51L994.51 -216.86M-131.42 919.95L999.95 -211.42M-125.97 925.4L1005.4 -205.97M-120.53 930.84L1010.84 -200.53M-115.08 936.29L1016.29 -195.08M-109.64 941.73L1021.73 -189.64M-104.19 947.18L1027.18 -184.19M-98.75 952.62L1032.62 -178.75M-93.3 958.07L1038.07 -173.3M-87.86 963.51L1043.51 -167.86M-82.41 968.96L1048.96 -162.41M-76.97 974.4L1054.4 -156.97M-71.53 979.85L1059.85 -151.53M-66.08 985.29L1065.29 -146.08M-60.64 990.74L1070.74 -140.64M-55.19 996.18L1076.18 -135.19M-49.75 1001.62L1081.62 -129.75M-44.3 1007.07L1087.07 -124.3M-38.86 1012.51L1092.51 -118.86M-33.41 1017.96L1097.96 -113.41M-27.97 1023.4L1103.4 -107.97M-22.52 1028.85L1108.85 -102.52M-17.08 1034.29L1114.29 -97.08M-11.63 1039.74L1119.74 -91.63M-6.19 1045.18L1125.18 -86.19M-0.74 1050.63L1130.63 -80.74M4.7 1056.07L1136.07 -75.3M10.15 1061.52L1141.52 -69.85M15.59 1066.96L1146.96 -64.41M21.04 1072.41L1152.41 -58.96M26.48 1077.85L1157.85 -53.52M31.92 1083.3L1163.3 -48.08M37.37 1088.74L1168.74 -42.63M42.81 1094.18L1174.18 -37.19M48.26 1099.63L1179.63 -31.74M53.7 1105.07L1185.07 -26.3M59.15 1110.52L1190.52 -20.85M64.59 1115.96L1195.96 -15.41M70.04 1121.41L1201.41 -9.96M75.48 1126.85L1206.85 -4.52M80.93 1132.3L1212.3 0.93M86.37 1137.74L1217.74 6.37M91.82 1143.19L1223.19 11.82M97.26 1148.63L1228.63 17.26M102.71 1154.08L1234.08 22.71M108.15 1159.52L1239.52 28.15M113.6 1164.97L1244.97 33.6M119.04 1170.41L1250.41 39.04M124.48 1175.86L1255.86 44.48M129.93 1181.3L1261.3 49.93M135.37 1186.75L1266.75 55.37M140.82 1192.19L1272.19 60.82M146.26 1197.63L1277.63 66.26M151.71 1203.08L1283.08 71.71M157.15 1208.52L1288.52 77.15M162.6 1213.97L1293.97 82.6M168.04 1219.41L1299.41 88.04M173.49 1224.86L1304.86 93.49M178.93 1230.3L1310.3 98.93M184.38 1235.75L1315.75 104.38M189.82 1241.19L1321.19 109.82M195.27 1246.64L1326.64 115.27M200.71 1252.08L1332.08 120.71M206.16 1257.53L1337.53 126.16M211.6 1262.97L1342.97 131.6M217.05 1268.42L1348.42 137.05M222.49 1273.86L1353.86 142.49M227.93 1279.31L1359.31 147.93M233.38 1284.75L1364.75 153.38M238.82 1290.19L1370.19 158.82M244.27 1295.64L1375.64 164.27M249.71 1301.08L1381.08 169.71M255.16 1306.53L1386.53 175.16M260.6 1311.97L1391.97 180.6M266.05 1317.42L1397.42 186.05M271.49 1322.86L1402.86 191.49M276.94 1328.31L1408.31 196.94M282.38 1333.75L1413.75 202.38M287.83 1339.2L1419.2 207.83M293.27 1344.64L1424.64 213.27M298.72 1350.09L1430.09 218.72M304.16 1355.53L1435.53 224.16M309.61 1360.98L1440.98 229.61M315.05 1366.42L1446.42 235.05M320.49 1371.87L1451.87 240.49" stroke-width="1.1" fill="none"/>
<polygon points="152.5,344.5 183.5,344.5 183.5,375.5 238.5,375.5 238.5,344.5 267.5,344.5 267.5,405.8 152.5,405.8" fill="none" stroke-width="4.8" stroke-linejoin="miter" />
<line x1="191.5" y1="375.5" x2="191.5" y2="405.8" stroke-width="4.8" />
<line x1="230" y1="375.5" x2="230" y2="405.8" stroke-width="4.8" />
<line x1="211.5" y1="334" x2="211.5" y2="350" stroke-width="1.05" />
<line x1="211.5" y1="353.5" x2="211.5" y2="394" stroke-width="1.05" />
<line x1="211.5" y1="397.5" x2="211.5" y2="420" stroke-width="1.05" />
<line x1="130" y1="344.5" x2="152.5" y2="344.5" stroke-width="1.05" />
<line x1="130" y1="375.5" x2="191.5" y2="375.5" stroke-width="1.05" />
<line x1="134.5" y1="316" x2="134.5" y2="402" stroke-width="1.05" />
<polygon points="131.95,329.1 131.95,334.1 133,334.3 133.1,339.5 135.5,339.5 135.6,334.3 136.65,334.1 136.65,329.1" fill="#000" stroke="none"/>
<polygon points="136.65,390.6 136.65,385.6 135.6,385.4 135.5,380.2 133.1,380.2 133,385.4 131.95,385.6 131.95,390.6" fill="#000" stroke="none"/>
<g transform="translate(122.32 359.54) rotate(-90) scale(1.0 1)"><g transform="scale(1.2200) skewX(-12.0) translate(-2.790 -5)" fill="none" stroke-width="1.311" stroke-linecap="round" stroke-linejoin="round"><path transform="translate(0.000 0) scale(0.9 1)" d="M3.1 4.6 C1.6 4.6 0.6 3.7 0.6 2.3 C0.6 0.9 1.6 0 3.1 0 C4.6 0 5.6 0.9 5.6 2.3 C5.6 3.7 4.6 4.6 3.1 4.6 C1.2 4.6 0 5.7 0 7.3 C0 8.9 1.3 10 3.1 10 C4.9 10 6.2 8.9 6.2 7.3 C6.2 5.7 5 4.6 3.1 4.6 Z"/></g></g>
<line x1="183.5" y1="317" x2="183.5" y2="344.5" stroke-width="1.05" />
<line x1="238.5" y1="317" x2="238.5" y2="344.5" stroke-width="1.05" />
<line x1="183.6" y1="322.5" x2="238.6" y2="322.5" stroke-width="1.05" />
<polygon points="199,319.65 194,319.65 193.8,320.7 188.6,320.8 188.6,323.2 193.8,323.3 194,324.35 199,324.35" fill="#000" stroke="none"/>
<polygon points="223.2,324.35 228.2,324.35 228.4,323.3 233.6,323.2 233.6,320.8 228.4,320.7 228.2,319.65 223.2,319.65" fill="#000" stroke="none"/>
<g transform="translate(210.32 310.92) rotate(0) scale(1.0 1)"><g transform="scale(1.2200) skewX(-12.0) translate(-7.380 -5)" fill="none" stroke-width="1.311" stroke-linecap="round" stroke-linejoin="round"><path transform="translate(0.000 0) scale(0.9 1)" d="M1.0 2.9 C2.3 2.3 3.4 1.3 4.3 0 L4.3 10"/><path transform="translate(9.180 0) scale(0.9 1)" d="M4.6 10 L4.6 0 L0 6.9 L6.4 6.9"/></g></g>
<line x1="191.5" y1="405.8" x2="191.5" y2="444" stroke-width="1.05" />
<line x1="230.5" y1="405.8" x2="230.5" y2="444" stroke-width="1.05" />
<line x1="159.7" y1="440.5" x2="261.4" y2="440.5" stroke-width="1.05" />
<polygon points="176,442.95 181,442.95 181.2,441.9 186.4,441.8 186.4,439.4 181.2,439.3 181,438.25 176,438.25" fill="#000" stroke="none"/>
<polygon points="245.5,438.25 240.5,438.25 240.3,439.3 235.1,439.4 235.1,441.8 240.3,441.9 240.5,442.95 245.5,442.95" fill="#000" stroke="none"/>
<g transform="translate(211.28 427.36) rotate(0) scale(1.0 1)"><g transform="scale(1.2200) skewX(-12.0) translate(-12.780 -5)" fill="none" stroke-width="1.311" stroke-linecap="round" stroke-linejoin="round"><path transform="translate(0.000 0) scale(0.9 1)" d="M4.0 1.1 C1.8 1.1 0 3.1 0 5.6 C0 8.1 1.8 10 4.0 10 C6.2 10 8.0 8.1 8.0 5.6 C8.0 3.1 6.2 1.1 4.0 1.1 Z M0.2 10.2 L7.8 0.7"/><path transform="translate(10.800 0) scale(0.9 1)" d="M1.0 2.9 C2.3 2.3 3.4 1.3 4.3 0 L4.3 10"/><path transform="translate(19.980 0) scale(0.9 1)" d="M3.1 0 C1.3 0 0 2.2 0 5 C0 7.8 1.3 10 3.1 10 C4.9 10 6.2 7.8 6.2 5 C6.2 2.2 4.9 0 3.1 0 Z"/></g></g>
<line x1="152.5" y1="405.8" x2="152.5" y2="473" stroke-width="1.05" />
<line x1="269.5" y1="405.8" x2="269.5" y2="473" stroke-width="1.05" />
<line x1="152.7" y1="467.5" x2="269" y2="467.5" stroke-width="1.05" />
<polygon points="168.1,465.05 163.1,465.05 162.9,466.1 157.7,466.2 157.7,468.6 162.9,468.7 163.1,469.75 168.1,469.75" fill="#000" stroke="none"/>
<polygon points="253.6,469.75 258.6,469.75 258.8,468.7 264,468.6 264,466.2 258.8,466.1 258.6,465.05 253.6,465.05" fill="#000" stroke="none"/>
<g transform="translate(210.8 456) rotate(0) scale(1.0 1)"><g transform="scale(1.2200) skewX(-12.0) translate(-7.380 -5)" fill="none" stroke-width="1.311" stroke-linecap="round" stroke-linejoin="round"><path transform="translate(0.000 0) scale(0.9 1)" d="M0.5 1.9 C1.1 0.6 2 0 3.1 0 C4.6 0 5.7 0.9 5.7 2.4 C5.7 3.9 4.6 4.7 2.7 4.7 C4.9 4.7 6.1 5.7 6.1 7.3 C6.1 9 4.8 10 3 10 C1.5 10 0.5 9.3 0 8.1"/><path transform="translate(9.180 0) scale(0.9 1)" d="M3.1 0 C1.3 0 0 2.2 0 5 C0 7.8 1.3 10 3.1 10 C4.9 10 6.2 7.8 6.2 5 C6.2 2.2 4.9 0 3.1 0 Z"/></g></g>
<g transform="translate(429.86 280.24) rotate(0) scale(1.0 1)"><g transform="scale(1.4600) skewX(-12.0) translate(-15.500 -5)" fill="none" stroke-width="1.507" stroke-linecap="round" stroke-linejoin="round"><path transform="translate(0.000 0) scale(1.0 1)" d="M6.2 0 L1.0 0 L0 10 L3.9 10 C5.5 10 6.4 9.1 6.4 7.5 C6.4 5.9 5.5 5 3.9 5 L0.5 5"/><path transform="translate(13.700 0) scale(1.0 1)" d="M0.6 6.9 L3.3 6.9"/><path transform="translate(24.400 0) scale(1.0 1)" d="M6.2 0 L1.0 0 L0 10 L3.9 10 C5.5 10 6.4 9.1 6.4 7.5 C6.4 5.9 5.5 5 3.9 5 L0.5 5"/></g></g>
<clipPath id="h5"><path d="M385.5 344.5H424.5V366H463.5V344.5H502.5V406.2H463.5V385.5H424.5V406.2H385.5Z"/></clipPath>
<path clip-path="url(#h5)" d="M-809.18 242.19L322.19 -889.18M-803.73 247.64L327.64 -883.73M-798.29 253.08L333.08 -878.29M-792.84 258.53L338.53 -872.84M-787.4 263.97L343.97 -867.4M-781.96 269.42L349.42 -861.96M-776.51 274.86L354.86 -856.51M-771.07 280.31L360.31 -851.07M-765.62 285.75L365.75 -845.62M-760.18 291.19L371.19 -840.18M-754.73 296.64L376.64 -834.73M-749.29 302.08L382.08 -829.29M-743.84 307.53L387.53 -823.84M-738.4 312.97L392.97 -818.4M-732.95 318.42L398.42 -812.95M-727.51 323.86L403.86 -807.51M-722.06 329.31L409.31 -802.06M-716.62 334.75L414.75 -796.62M-711.17 340.2L420.2 -791.17M-705.73 345.64L425.64 -785.73M-700.28 351.09L431.09 -780.28M-694.84 356.53L436.53 -774.84M-689.39 361.98L441.98 -769.39M-683.95 367.42L447.42 -763.95M-678.51 372.87L452.87 -758.51M-673.06 378.31L458.31 -753.06M-667.62 383.75L463.75 -747.62M-662.17 389.2L469.2 -742.17M-656.73 394.64L474.64 -736.73M-651.28 400.09L480.09 -731.28M-645.84 405.53L485.53 -725.84M-640.39 410.98L490.98 -720.39M-634.95 416.42L496.42 -714.95M-629.5 421.87L501.87 -709.5M-624.06 427.31L507.31 -704.06M-618.61 432.76L512.76 -698.61M-613.17 438.2L518.2 -693.17M-607.72 443.65L523.65 -687.72M-602.28 449.09L529.09 -682.28M-596.83 454.54L534.54 -676.83M-591.39 459.98L539.98 -671.39M-585.95 465.43L545.43 -665.95M-580.5 470.87L550.87 -660.5M-575.06 476.32L556.32 -655.06M-569.61 481.76L561.76 -649.61M-564.17 487.2L567.2 -644.17M-558.72 492.65L572.65 -638.72M-553.28 498.09L578.09 -633.28M-547.83 503.54L583.54 -627.83M-542.39 508.98L588.98 -622.39M-536.94 514.43L594.43 -616.94M-531.5 519.87L599.87 -611.5M-526.05 525.32L605.32 -606.05M-520.61 530.76L610.76 -600.61M-515.16 536.21L616.21 -595.16M-509.72 541.65L621.65 -589.72M-504.27 547.1L627.1 -584.27M-498.83 552.54L632.54 -578.83M-493.38 557.99L637.99 -573.38M-487.94 563.43L643.43 -567.94M-482.5 568.88L648.88 -562.5M-477.05 574.32L654.32 -557.05M-471.61 579.76L659.76 -551.61M-466.16 585.21L665.21 -546.16M-460.72 590.65L670.65 -540.72M-455.27 596.1L676.1 -535.27M-449.83 601.54L681.54 -529.83M-444.38 606.99L686.99 -524.38M-438.94 612.43L692.43 -518.94M-433.49 617.88L697.88 -513.49M-428.05 623.32L703.32 -508.05M-422.6 628.77L708.77 -502.6M-417.16 634.21L714.21 -497.16M-411.71 639.66L719.66 -491.71M-406.27 645.1L725.1 -486.27M-400.82 650.55L730.55 -480.82M-395.38 655.99L735.99 -475.38M-389.94 661.44L741.44 -469.94M-384.49 666.88L746.88 -464.49M-379.05 672.33L752.33 -459.05M-373.6 677.77L757.77 -453.6M-368.16 683.21L763.21 -448.16M-362.71 688.66L768.66 -442.71M-357.27 694.1L774.1 -437.27M-351.82 699.55L779.55 -431.82M-346.38 704.99L784.99 -426.38M-340.93 710.44L790.44 -420.93M-335.49 715.88L795.88 -415.49M-330.04 721.33L801.33 -410.04M-324.6 726.77L806.77 -404.6M-319.15 732.22L812.22 -399.15M-313.71 737.66L817.66 -393.71M-308.26 743.11L823.11 -388.26M-302.82 748.55L828.55 -382.82M-297.37 754L834 -377.37M-291.93 759.44L839.44 -371.93M-286.49 764.89L844.89 -366.49M-281.04 770.33L850.33 -361.04M-275.6 775.77L855.77 -355.6M-270.15 781.22L861.22 -350.15M-264.71 786.66L866.66 -344.71M-259.26 792.11L872.11 -339.26M-253.82 797.55L877.55 -333.82M-248.37 803L883 -328.37M-242.93 808.44L888.44 -322.93M-237.48 813.89L893.89 -317.48M-232.04 819.33L899.33 -312.04M-226.59 824.78L904.78 -306.59M-221.15 830.22L910.22 -301.15M-215.7 835.67L915.67 -295.7M-210.26 841.11L921.11 -290.26M-204.81 846.56L926.56 -284.81M-199.37 852L932 -279.37M-193.93 857.45L937.45 -273.93M-188.48 862.89L942.89 -268.48M-183.04 868.34L948.34 -263.04M-177.59 873.78L953.78 -257.59M-172.15 879.22L959.22 -252.15M-166.7 884.67L964.67 -246.7M-161.26 890.11L970.11 -241.26M-155.81 895.56L975.56 -235.81M-150.37 901L981 -230.37M-144.92 906.45L986.45 -224.92M-139.48 911.89L991.89 -219.48M-134.03 917.34L997.34 -214.03M-128.59 922.78L1002.78 -208.59M-123.14 928.23L1008.23 -203.14M-117.7 933.67L1013.67 -197.7M-112.25 939.12L1019.12 -192.25M-106.81 944.56L1024.56 -186.81M-101.36 950.01L1030.01 -181.36M-95.92 955.45L1035.45 -175.92M-90.48 960.9L1040.9 -170.48M-85.03 966.34L1046.34 -165.03M-79.59 971.78L1051.78 -159.59M-74.14 977.23L1057.23 -154.14M-68.7 982.67L1062.67 -148.7M-63.25 988.12L1068.12 -143.25M-57.81 993.56L1073.56 -137.81M-52.36 999.01L1079.01 -132.36M-46.92 1004.45L1084.45 -126.92M-41.47 1009.9L1089.9 -121.47M-36.03 1015.34L1095.34 -116.03M-30.58 1020.79L1100.79 -110.58M-25.14 1026.23L1106.23 -105.14M-19.69 1031.68L1111.68 -99.69M-14.25 1037.12L1117.12 -94.25M-8.8 1042.57L1122.57 -88.8M-3.36 1048.01L1128.01 -83.36M2.08 1053.46L1133.46 -77.92M7.53 1058.9L1138.9 -72.47M12.97 1064.35L1144.35 -67.03M18.42 1069.79L1149.79 -61.58M23.86 1075.23L1155.23 -56.14M29.31 1080.68L1160.68 -50.69M34.75 1086.12L1166.12 -45.25M40.2 1091.57L1171.57 -39.8M45.64 1097.01L1177.01 -34.36M51.09 1102.46L1182.46 -28.91M56.53 1107.9L1187.9 -23.47M61.98 1113.35L1193.35 -18.02M67.42 1118.79L1198.79 -12.58M72.87 1124.24L1204.24 -7.13M78.31 1129.68L1209.68 -1.69M83.76 1135.13L1215.13 3.76M89.2 1140.57L1220.57 9.2M94.65 1146.02L1226.02 14.65M100.09 1151.46L1231.46 20.09M105.53 1156.91L1236.91 25.53M110.98 1162.35L1242.35 30.98M116.42 1167.79L1247.79 36.42M121.87 1173.24L1253.24 41.87M127.31 1178.68L1258.68 47.31M132.76 1184.13L1264.13 52.76M138.2 1189.57L1269.57 58.2M143.65 1195.02L1275.02 63.65M149.09 1200.46L1280.46 69.09M154.54 1205.91L1285.91 74.54M159.98 1211.35L1291.35 79.98M165.43 1216.8L1296.8 85.43M170.87 1222.24L1302.24 90.87M176.32 1227.69L1307.69 96.32M181.76 1233.13L1313.13 101.76M187.21 1238.58L1318.58 107.21M192.65 1244.02L1324.02 112.65M198.09 1249.47L1329.47 118.09M203.54 1254.91L1334.91 123.54M208.98 1260.36L1340.36 128.98M214.43 1265.8L1345.8 134.43M219.87 1271.24L1351.24 139.87M225.32 1276.69L1356.69 145.32M230.76 1282.13L1362.13 150.76M236.21 1287.58L1367.58 156.21M241.65 1293.02L1373.02 161.65M247.1 1298.47L1378.47 167.1M252.54 1303.91L1383.91 172.54M257.99 1309.36L1389.36 177.99M263.43 1314.8L1394.8 183.43M268.88 1320.25L1400.25 188.88M274.32 1325.69L1405.69 194.32M279.77 1331.14L1411.14 199.77M285.21 1336.58L1416.58 205.21M290.66 1342.03L1422.03 210.66M296.1 1347.47L1427.47 216.1M301.54 1352.92L1432.92 221.54M306.99 1358.36L1438.36 226.99M312.43 1363.8L1443.8 232.43M317.88 1369.25L1449.25 237.88M323.32 1374.69L1454.69 243.32" stroke-width="1.1" fill="none"/>
<path d="M385.5 344.5H424.5V366H463.5V344.5H502.5V406.2H463.5V385.5H424.5V406.2H385.5Z" fill="none" stroke-width="4.8"/>
<line x1="377" y1="375.5" x2="512.5" y2="375.5" stroke-width="1.05" stroke-dasharray="9,3"/>
<line x1="444.5" y1="341" x2="444.5" y2="366" stroke-width="1.05" />
<line x1="444.5" y1="385.5" x2="444.5" y2="410" stroke-width="1.05" />
<line x1="444.5" y1="372" x2="444.5" y2="379" stroke-width="1.05" />
<line x1="441" y1="375.5" x2="448" y2="375.5" stroke-width="1.05" />
<line x1="424.5" y1="316" x2="424.5" y2="344.5" stroke-width="1.05" />
<line x1="464.5" y1="316" x2="464.5" y2="344.5" stroke-width="1.05" />
<line x1="394" y1="321.5" x2="496" y2="321.5" stroke-width="1.05" />
<polygon points="409.4,323.85 414.4,323.85 414.6,322.8 419.8,322.7 419.8,320.3 414.6,320.2 414.4,319.15 409.4,319.15" fill="#000" stroke="none"/>
<polygon points="479.6,319.15 474.6,319.15 474.4,320.2 469.2,320.3 469.2,322.7 474.4,322.8 474.6,323.85 479.6,323.85" fill="#000" stroke="none"/>
<g transform="translate(443.6 309.65) rotate(0) scale(1.0 1)"><g transform="scale(1.2200) skewX(-12.0) translate(-7.380 -5)" fill="none" stroke-width="1.311" stroke-linecap="round" stroke-linejoin="round"><path transform="translate(0.000 0) scale(0.9 1)" d="M1.0 2.9 C2.3 2.3 3.4 1.3 4.3 0 L4.3 10"/><path transform="translate(9.180 0) scale(0.9 1)" d="M3.1 0 C1.3 0 0 2.2 0 5 C0 7.8 1.3 10 3.1 10 C4.9 10 6.2 7.8 6.2 5 C6.2 2.2 4.9 0 3.1 0 Z"/></g></g>
<line x1="465" y1="365.5" x2="534" y2="365.5" stroke-width="1.05" />
<line x1="465" y1="385.5" x2="534" y2="385.5" stroke-width="1.05" />
<line x1="528.5" y1="315" x2="528.5" y2="416" stroke-width="1.05" />
<polygon points="526.45,350.1 526.45,355.1 527.5,355.3 527.6,360.5 530,360.5 530.1,355.3 531.15,355.1 531.15,350.1" fill="#000" stroke="none"/>
<polygon points="531.15,400.6 531.15,395.6 530.1,395.4 530,390.2 527.6,390.2 527.5,395.4 526.45,395.6 526.45,400.6" fill="#000" stroke="none"/>
<g transform="translate(516.58 324.76) rotate(-90) scale(1.0 1)"><g transform="scale(1.2200) skewX(-12.0) translate(-2.790 -5)" fill="none" stroke-width="1.311" stroke-linecap="round" stroke-linejoin="round"><path transform="translate(0.000 0) scale(0.9 1)" d="M5.8 0 L1.1 0 L0.5 4.6 C1.2 3.9 2.1 3.6 3.1 3.6 C4.9 3.6 6.1 4.9 6.1 6.8 C6.1 8.7 4.8 10 3 10 C1.6 10 0.6 9.3 0.1 8.2"/></g></g>
<path d="M466.5 273 A13.1 13.1 0 1 1 482 292" fill="none" stroke-width="1.2"/>
<path d="M474.5 291.6 A13.1 13.1 0 0 1 471 290.5" fill="none" stroke-width="1"/>
<polygon points="463.2,275 467.8,275 467.8,277.6 467,277.6 466.6,287 465,287 464.6,277.6 463.2,277.6" fill="#000" stroke="none"/>
</svg></body></html>
